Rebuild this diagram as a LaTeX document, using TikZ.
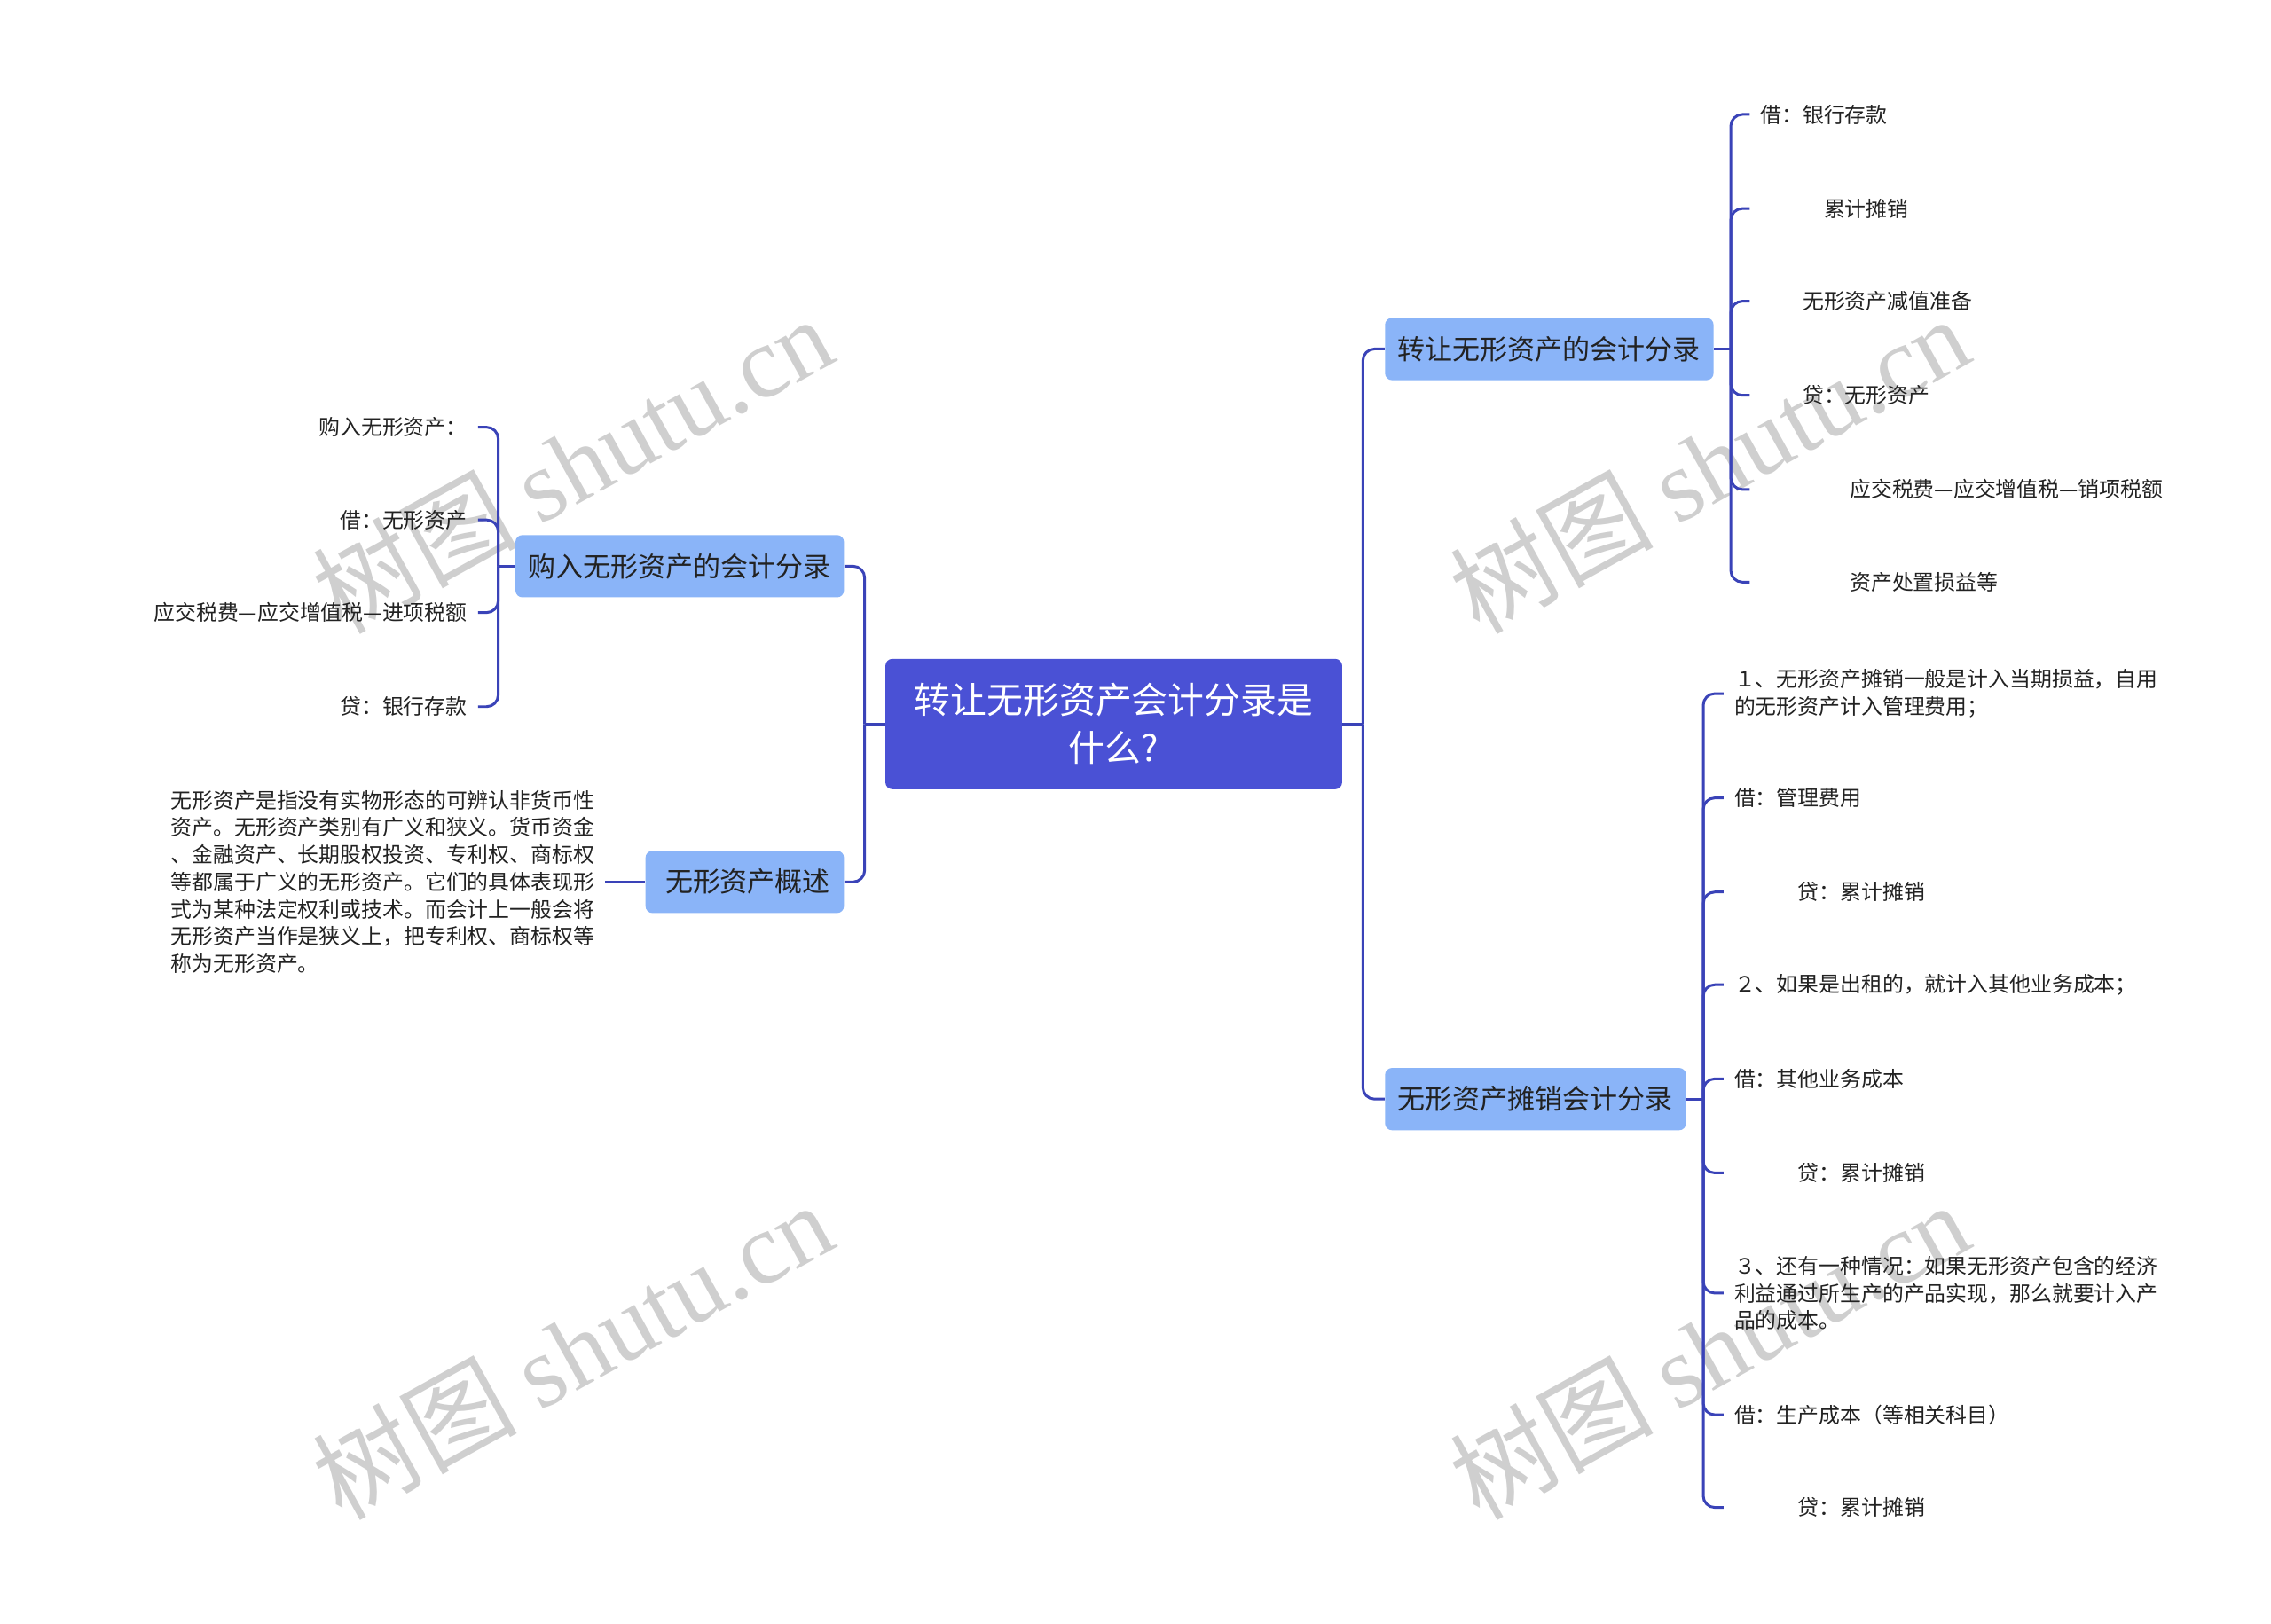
\documentclass[tikz,border=0pt]{standalone}
\usepackage{fontspec}
\setmainfont{Noto Sans CJK SC}
\newfontfamily\wmlatin{Liberation Serif}
\definecolor{rootblue}{HTML}{4A51D5}
\definecolor{boxblue}{HTML}{8AB4F8}
\definecolor{linkblue}{HTML}{3A43B8}
\definecolor{inktext}{HTML}{222222}

\begin{document}
\begin{tikzpicture}[x=0.025cm, y=-0.025cm,
rootnode/.style={rectangle, rounded corners=0.12cm, fill=rootblue, text=white, align=center, inner xsep=0.5cm, minimum height=2.25cm, font=\fontsize{17.8pt}{23.5pt}\selectfont},
branchnode/.style={rectangle, rounded corners=0.12cm, fill=boxblue, text=inktext, inner xsep=0.225cm, minimum height=1.075cm, font=\fontsize{13.5pt}{16pt}\selectfont},
leafnode/.style={inner xsep=0.18cm, inner ysep=0pt, text=inktext, align=left, font=\fontsize{10.4pt}{13.4pt}\selectfont},
link/.style={draw=linkblue, line width=1.3pt, rounded corners=0.2cm},
watermark/.style={text=gray!38, rotate=29, font=\fontsize{50pt}{54pt}\selectfont},
]
\path[fill=white, use as bounding box] (0,0) rectangle (1568,1121);

%Watermarks
\node[watermark](markA) at(395,320) {树图 {\wmlatin shutu.cn}};
\node[watermark](markB) at(395,932) {树图 {\wmlatin shutu.cn}};
\node[watermark](markC) at(1180,320) {树图 {\wmlatin shutu.cn}};
\node[watermark](markD) at(1180,932) {树图 {\wmlatin shutu.cn}};

%Nodes
\node[rootnode](root) at(769,500) {转让无形资产会计分录是\\什么?};

\node[branchnode, anchor=east](buy) at(583,391) {购入无形资产的会计分录};
\node[branchnode, anchor=east, minimum width=3.425cm](overview) at(583,609) {\ 无形资产概述};
\node[branchnode, anchor=west](transfer) at(956,241) {转让无形资产的会计分录};
\node[branchnode, anchor=west](amort) at(956,759) {无形资产摊销会计分录};

\node[leafnode, anchor=east](buyA) at(330,295) {购入无形资产：};
\node[leafnode, anchor=east](buyB) at(330,359) {借：无形资产};
\node[leafnode, anchor=east](buyC) at(330,423) {应交税费—应交增值税—进项税额};
\node[leafnode, anchor=east](buyD) at(330,488) {贷：银行存款};

\node[leafnode, anchor=east](define) at(418,609) {无形资产是指没有实物形态的可辨认非货币性\\资产。无形资产类别有广义和狭义。货币资金\\、金融资产、长期股权投资、专利权、商标权\\等都属于广义的无形资产。它们的具体表现形\\式为某种法定权利或技术。而会计上一般会将\\无形资产当作是狭义上，把专利权、商标权等\\称为无形资产。};

\node[leafnode, anchor=west](sellA) at(1208,79) {借：银行存款};
\node[leafnode, anchor=west](sellB) at(1208,144) {　　　累计摊销};
\node[leafnode, anchor=west](sellC) at(1208,208) {　　无形资产减值准备};
\node[leafnode, anchor=west](sellD) at(1208,273) {　　贷：无形资产};
\node[leafnode, anchor=west](sellE) at(1208,338) {　　　　\ 应交税费—应交增值税—销项税额};
\node[leafnode, anchor=west](sellF) at(1208,402) {　　　　\ 资产处置损益等};

\node[leafnode, anchor=west](amA) at(1190,479) {１、无形资产摊销一般是计入当期损益，自用\\的无形资产计入管理费用；};
\node[leafnode, anchor=west](amB) at(1190,551) {借：管理费用};
\node[leafnode, anchor=west](amC) at(1190,616) {　　　贷：累计摊销};
\node[leafnode, anchor=west](amD) at(1190,680) {２、如果是出租的，就计入其他业务成本；};
\node[leafnode, anchor=west](amE) at(1190,745) {借：其他业务成本};
\node[leafnode, anchor=west](amF) at(1190,810) {　　　贷：累计摊销};
\node[leafnode, anchor=west](amG) at(1190,893) {３、还有一种情况：如果无形资产包含的经济\\利益通过所生产的产品实现，那么就要计入产\\品的成本。};
\node[leafnode, anchor=west](amH) at(1190,977) {借：生产成本（等相关科目）};
\node[leafnode, anchor=west](amI) at(1190,1041) {　　　贷：累计摊销};

\coordinate (leftjoin) at(597,500);
\coordinate (rightjoin) at(941,500);
\coordinate (buyjoin) at(344,391);
\coordinate (selljoin) at(1195,241);
\coordinate (amjoin) at(1176,759);

%Lines
\draw[link] (root.west) -- (leftjoin);
\draw[link] (leftjoin) |- (buy.east);
\draw[link] (leftjoin) |- (overview.east);
\draw[link] (root.east) -- (rightjoin);
\draw[link] (rightjoin) |- (transfer.west);
\draw[link] (rightjoin) |- (amort.west);

\draw[link] (buy.west) -- (buyjoin);
\draw[link] (buyjoin) |- (buyA.east);
\draw[link] (buyjoin) |- (buyB.east);
\draw[link] (buyjoin) |- (buyC.east);
\draw[link] (buyjoin) |- (buyD.east);

\draw[link] (overview.west) -- (define.east);

\draw[link] (transfer.east) -- (selljoin);
\draw[link] (selljoin) |- (sellA.west);
\draw[link] (selljoin) |- (sellB.west);
\draw[link] (selljoin) |- (sellC.west);
\draw[link] (selljoin) |- (sellD.west);
\draw[link] (selljoin) |- (sellE.west);
\draw[link] (selljoin) |- (sellF.west);

\draw[link] (amort.east) -- (amjoin);
\draw[link] (amjoin) |- (amA.west);
\draw[link] (amjoin) |- (amB.west);
\draw[link] (amjoin) |- (amC.west);
\draw[link] (amjoin) |- (amD.west);
\draw[link] (amjoin) |- (amE.west);
\draw[link] (amjoin) |- (amF.west);
\draw[link] (amjoin) |- (amG.west);
\draw[link] (amjoin) |- (amH.west);
\draw[link] (amjoin) |- (amI.west);
\end{tikzpicture}
\end{document}
